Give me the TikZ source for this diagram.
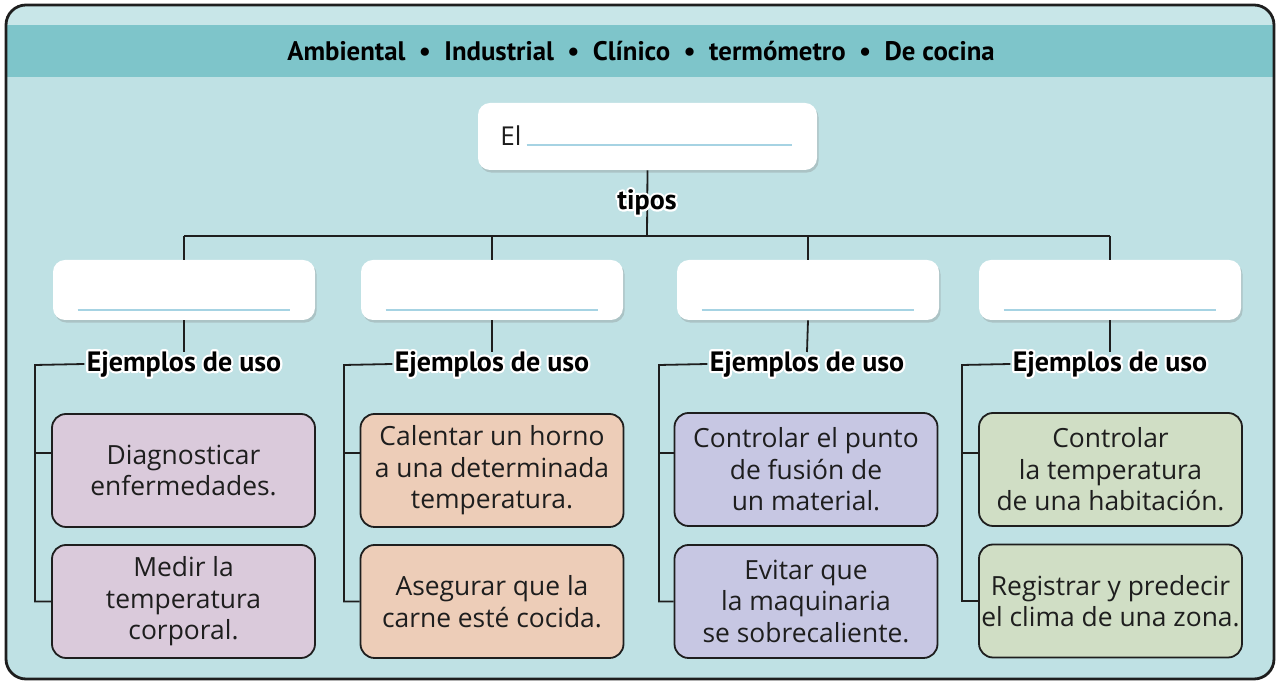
\documentclass[tikz,border=0pt]{standalone}
\usepackage{fontspec}
\setmainfont{Open Sans}
\newfontfamily\labfont{PT Sans}
\usetikzlibrary{shadows,calc}
\definecolor{bgc}{HTML}{BFE1E4}
\definecolor{bandc}{HTML}{7EC5CA}
\definecolor{topc}{HTML}{C8E6E8}
\definecolor{leafA}{HTML}{DACADB}
\definecolor{leafB}{HTML}{EDCDB8}
\definecolor{leafC}{HTML}{C7C7E3}
\definecolor{leafD}{HTML}{D0DEC5}
\definecolor{blankc}{HTML}{A6D3E3}
\definecolor{inkc}{HTML}{1E1E1E}
\newcommand\halo[1]{\leavevmode
  \rlap{\color{white}\special{pdf:literal direct 1 Tr 2.2 w 1 j}#1\special{pdf:literal direct 0 Tr 0.4 w 0 j}}%
  #1}
\tikzset{
  conn/.style={draw=inkc, line width=0.9pt},
  whitebox/.style={fill=white, rounded corners=6pt, minimum width=131pt, minimum height=30pt,
    drop shadow={shadow xshift=0.8pt, shadow yshift=-1.3pt, opacity=0.3}},
  leaf/.style={draw=inkc, line width=0.9pt, rounded corners=7pt, minimum width=131.5pt,
    minimum height=56.5pt, align=center, text=inkc, font=\fontsize{13.2}{15.7}\selectfont, inner sep=1pt},
  lab/.style={font=\labfont\bfseries\fontsize{14}{15}\selectfont, text=black, inner sep=1pt},
  blankline/.style={draw=blankc, line width=0.9pt}
}
\begin{document}
\begin{tikzpicture}[x=0.5pt, y=-0.5pt]
\useasboundingbox (0,0) rectangle (1282,683);
% frame
\fill[bgc, rounded corners=10pt] (6,5) rectangle (1274,679);
\begin{scope}
\clip[rounded corners=10pt] (6,5) rectangle (1274,679);
\fill[topc] (6,5) rectangle (1274,25);
\fill[bandc] (6,25) rectangle (1274,77);
\end{scope}
\draw[inkc, line width=1.4pt, rounded corners=10pt] (6,5) rectangle (1274,679);
\node[font=\labfont\bfseries\fontsize{13.4}{15}\selectfont] (title) at (641,51)
  {Ambiental\enspace•\enspace Industrial\enspace•\enspace Clínico\enspace•\enspace termómetro\enspace•\enspace De cocina};
% top box
\node[whitebox, minimum width=169.5pt, minimum height=33.5pt] (root) at (647.5,136.5) {};
\node[anchor=base west, font=\fontsize{13}{15}\selectfont, text=inkc, inner sep=0pt] (el) at (500,146) {El};
\draw[blankline] ($(root.south west)+(49,-25)$) -- ($(root.south east)+(-25,-25)$);
% level 2 boxes
\foreach \i/\x in {1/184,2/492,3/808,4/1110}{
  \node[whitebox] (t\i) at (\x,290) {};
  \draw[blankline] ($(t\i.south west)+(25,-10)$) -- ($(t\i.south east)+(-25,-10)$);
}
% junction
\coordinate (j) at (647,236);
\draw[conn] (root.south) -- (j);
\node[lab] (tipos) at (647,202) {\halo{tipos}};
\draw[conn] (t1.north |- j) -- (t4.north |- j);
\foreach \i in {1,2,3,4}{ \draw[conn] (t\i.north |- j) -- (t\i.north); }
% labels
\foreach \i/\x/\lx in {1/184/35,2/492/344,3/807/659,4/1110/962}{
  \coordinate (c\i) at (\lx,365);
  \draw[conn] (t\i.south) -- (\x,352);
}
% leaves
\node[leaf, fill=leafA] (a1) at (183.5,470.5) {Diagnosticar\\enfermedades.};
\node[leaf, fill=leafA] (b1) at (183.5,601.5) {Medir la\\temperatura\\corporal.};
\node[leaf, fill=leafB] (a2) at (492,470.5) {Calentar un horno\\a una determinada\\temperatura.};
\node[leaf, fill=leafB] (b2) at (492,601.5) {Asegurar que la\\carne esté cocida.};
\node[leaf, fill=leafC] (a3) at (806,469.5) {Controlar el punto\\de fusión de\\un material.};
\node[leaf, fill=leafC] (b3) at (806,601.5) {Evitar que\\la maquinaria\\se sobrecaliente.};
\node[leaf, fill=leafD] (a4) at (1110.5,469.5) {Controlar\\la temperatura\\de una habitación.};
\node[leaf, fill=leafD] (b4) at (1110.5,601) {Registrar y predecir\\el clima de una zona.};
\foreach \i/\x in {1/184,2/492,3/807,4/1110}{
  \node[lab] (e\i) at (\x,364) {\halo{Ejemplos de uso}};
  \draw[conn] (e\i.west) -- (c\i) |- (b\i.west);
  \draw[conn] (c\i |- 0,453) -- (a\i.west |- 0,453);
}
\end{tikzpicture}
\end{document}
